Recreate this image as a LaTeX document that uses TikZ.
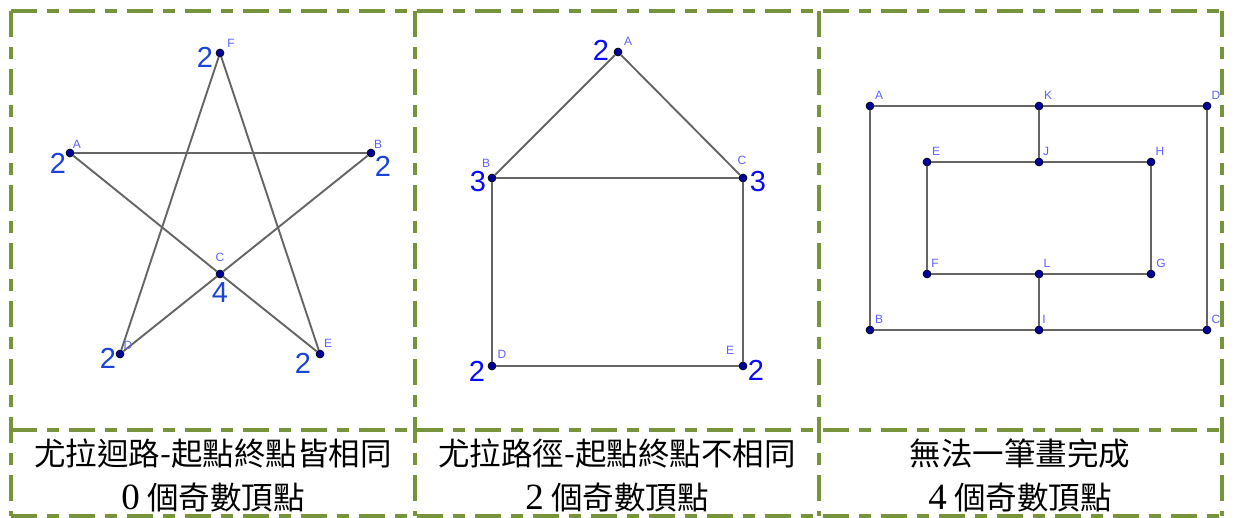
\documentclass[tikz,border=0pt]{standalone}
\usepackage{fontspec}
\setmainfont{Liberation Sans}
\newfontfamily\cjk{Noto Sans CJK TC}
\newfontfamily\serifdig{Liberation Serif}
\definecolor{framegreen}{HTML}{77933C}
\definecolor{ptblue}{HTML}{000099}
\definecolor{edgegray}{HTML}{656565}
\definecolor{lblblue}{HTML}{6060FF}
\definecolor{degblueA}{HTML}{1A44D6}
\definecolor{degblueB}{HTML}{0A0AFA}
\tikzset{
  vtx/.style={circle, fill=ptblue, draw=black, line width=0.6pt, inner sep=0pt, minimum size=8pt},
  gedge/.style={draw=edgegray, line width=1.9pt},
  lbl/.style={text=lblblue, font=\fontsize{12}{12}\selectfont, inner sep=0pt},
  degA/.style={text=degblueA, font=\fontsize{29}{29}\selectfont, inner sep=0pt},
  degB/.style={text=degblueB, font=\fontsize{29}{29}\selectfont, inner sep=0pt},
  frameline/.style={draw=framegreen, line width=4pt, dash pattern=on 26pt off 10pt on 12pt off 10pt},
  captext/.style={font=\cjk\fontsize{31.5}{44}\selectfont, align=center, text=black, inner sep=0pt}
}
\newcommand{\capdigit}[1]{{\serifdig\fontsize{37}{44}\selectfont #1}}
\begin{document}
\begin{tikzpicture}[x=1pt,y=-1pt]
\useasboundingbox[fill=white] (0,0) rectangle (1234,517);
% frame
\draw[frameline] (11,11) -- (1222,11);
\draw[frameline] (11,430) -- (1222,430);
\draw[frameline] (11,516) -- (1222,516);
\draw[frameline] (11,11) -- (11,516);
\draw[frameline] (415,11) -- (415,516);
\draw[frameline] (819,11) -- (819,516);
\draw[frameline] (1222,11) -- (1222,516);
% ---------- panel 1: star ----------
\node[vtx] (sF) at (220,53) {};
\node[vtx] (sA) at (70,153) {};
\node[vtx] (sB) at (371,153) {};
\node[vtx] (sC) at (220,274) {};
\node[vtx] (sD) at (120,354) {};
\node[vtx] (sE) at (320,354) {};
\draw[gedge] (sA) -- (sB);
\draw[gedge] (sF) -- (sD);
\draw[gedge] (sF) -- (sE);
\draw[gedge] (sA) -- (sC);
\draw[gedge] (sC) -- (sE);
\draw[gedge] (sB) -- (sC);
\draw[gedge] (sC) -- (sD);
\node[lbl] (lsF) at (231,43) {F};
\node[lbl] (lsA) at (77,144) {A};
\node[lbl] (lsB) at (378,144) {B};
\node[lbl] (lsC) at (220,257) {C};
\node[lbl] (lsD) at (128,345) {D};
\node[lbl] (lsE) at (328,343) {E};
\node[degA] (dsF) at (205,57) {2};
\node[degA] (dsA) at (58,163) {2};
\node[degA] (dsB) at (383,166) {2};
\node[degA] (dsC) at (220,293) {4};
\node[degA] (dsD) at (108,358) {2};
\node[degA] (dsE) at (303,363) {2};
% ---------- panel 2: house ----------
\node[vtx] (hA) at (618,52) {};
\node[vtx] (hB) at (492,178) {};
\node[vtx] (hC) at (743,178) {};
\node[vtx] (hD) at (492,366) {};
\node[vtx] (hE) at (743,366) {};
\draw[gedge] (hA) -- (hB);
\draw[gedge] (hA) -- (hC);
\draw[gedge] (hB) -- (hC);
\draw[gedge] (hB) -- (hD);
\draw[gedge] (hC) -- (hE);
\draw[gedge] (hD) -- (hE);
\node[lbl] (lhA) at (628,41) {A};
\node[lbl] (lhB) at (486,163) {B};
\node[lbl] (lhC) at (742,160) {C};
\node[lbl] (lhD) at (502,354) {D};
\node[lbl] (lhE) at (730,350) {E};
\node[degB] (dhA) at (601,50) {2};
\node[degB] (dhB) at (478,182) {3};
\node[degB] (dhC) at (758,182) {3};
\node[degB] (dhD) at (477,371) {2};
\node[degB] (dhE) at (756,370) {2};
% ---------- panel 3: rectangles ----------
\node[vtx] (rA) at (870,106) {};
\node[vtx] (rK) at (1039,106) {};
\node[vtx] (rD) at (1207,106) {};
\node[vtx] (rE) at (927,162) {};
\node[vtx] (rJ) at (1039,162) {};
\node[vtx] (rH) at (1151,162) {};
\node[vtx] (rF) at (927,274) {};
\node[vtx] (rL) at (1039,274) {};
\node[vtx] (rG) at (1151,274) {};
\node[vtx] (rB) at (870,330) {};
\node[vtx] (rI) at (1039,330) {};
\node[vtx] (rC) at (1207,330) {};
\draw[gedge] (rA) -- (rK);
\draw[gedge] (rK) -- (rD);
\draw[gedge] (rD) -- (rC);
\draw[gedge] (rC) -- (rI);
\draw[gedge] (rI) -- (rB);
\draw[gedge] (rB) -- (rA);
\draw[gedge] (rK) -- (rJ);
\draw[gedge] (rE) -- (rJ);
\draw[gedge] (rJ) -- (rH);
\draw[gedge] (rH) -- (rG);
\draw[gedge] (rG) -- (rL);
\draw[gedge] (rL) -- (rF);
\draw[gedge] (rF) -- (rE);
\draw[gedge] (rL) -- (rI);
\node[lbl] (lrA) at (879,95) {A};
\node[lbl] (lrK) at (1048,95) {K};
\node[lbl] (lrD) at (1216,95) {D};
\node[lbl] (lrE) at (936,151) {E};
\node[lbl] (lrJ) at (1046,151) {J};
\node[lbl] (lrH) at (1160,151) {H};
\node[lbl] (lrF) at (935,263) {F};
\node[lbl] (lrL) at (1047,263) {L};
\node[lbl] (lrG) at (1161,263) {G};
\node[lbl] (lrB) at (879,319) {B};
\node[lbl] (lrI) at (1044,319) {I};
\node[lbl] (lrC) at (1216,319) {C};
% ---------- captions ----------
\node[captext] (cap1) at (213,475) {尤拉迴路-起點終點皆相同\\\capdigit{0} 個奇數頂點};
\node[captext] (cap2) at (617,475) {尤拉路徑-起點終點不相同\\\capdigit{2} 個奇數頂點};
\node[captext] (cap3) at (1020,475) {無法一筆畫完成\\\capdigit{4} 個奇數頂點};
\end{tikzpicture}
\end{document}
